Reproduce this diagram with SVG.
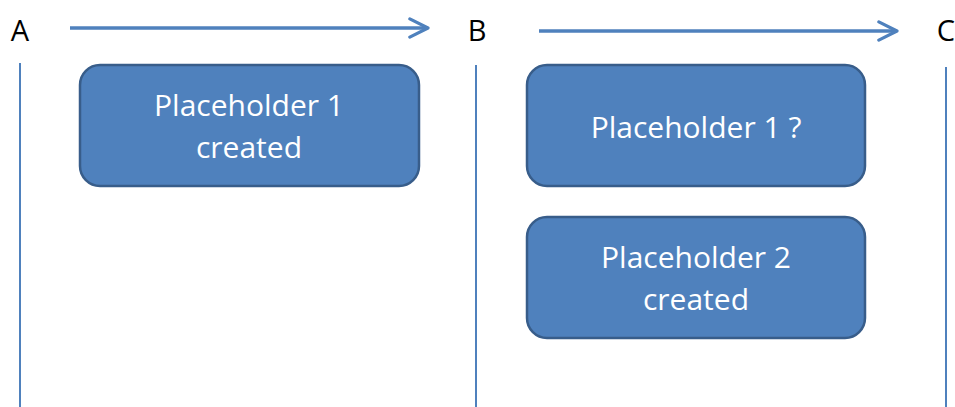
<svg xmlns="http://www.w3.org/2000/svg" width="955" height="407" viewBox="0 0 955 407">
<style>
.box{fill:#4F81BD;stroke:#385D8A;stroke-width:2.5}
.t{font-family:"Open Sans","Liberation Sans",sans-serif;font-size:30px;fill:#fff;text-anchor:middle}
.lbl{font-family:"Open Sans","Liberation Sans",sans-serif;font-size:29px;fill:#000;text-anchor:middle}
.life{stroke:#4F81BD;stroke-width:2;fill:none}
.arr{stroke:#4F81BD;stroke-width:3.5;fill:none}
</style>
<defs>
<marker id="ah" viewBox="0 0 10 10" refX="9" refY="5" markerWidth="6.5" markerHeight="6.5" markerUnits="strokeWidth" orient="auto">
<path d="M1,1 L9,5 L1,9" fill="none" stroke="#4F81BD" stroke-width="1.4" stroke-linecap="round" stroke-linejoin="round"/>
</marker>
</defs>
<g id="lifelines">
<g id="A"><text class="lbl" x="20" y="41">A</text><line class="life" x1="20" y1="63" x2="20" y2="407"/></g>
<g id="B"><text class="lbl" x="477" y="41">B</text><line class="life" x1="476" y1="65" x2="476" y2="407"/></g>
<g id="C"><text class="lbl" x="946" y="41">C</text><line class="life" x1="946" y1="67" x2="946" y2="407"/></g>
</g>
<g id="connectors">
<line class="arr" x1="70" y1="28" x2="428" y2="28" marker-end="url(#ah)"/>
<line class="arr" x1="539" y1="31" x2="897" y2="31" marker-end="url(#ah)"/>
</g>
<g id="node1"><rect class="box" x="80" y="65" width="339" height="121" rx="20"/><text class="t" x="249" y="116">Placeholder 1</text><text class="t" x="249" y="158">created</text></g>
<g id="node2"><rect class="box" x="527" y="65" width="338" height="121" rx="20"/><text class="t" x="696" y="138">Placeholder 1 ?</text></g>
<g id="node3"><rect class="box" x="527" y="217" width="338" height="121" rx="20"/><text class="t" x="696" y="268">Placeholder 2</text><text class="t" x="696" y="310">created</text></g>
</svg>
